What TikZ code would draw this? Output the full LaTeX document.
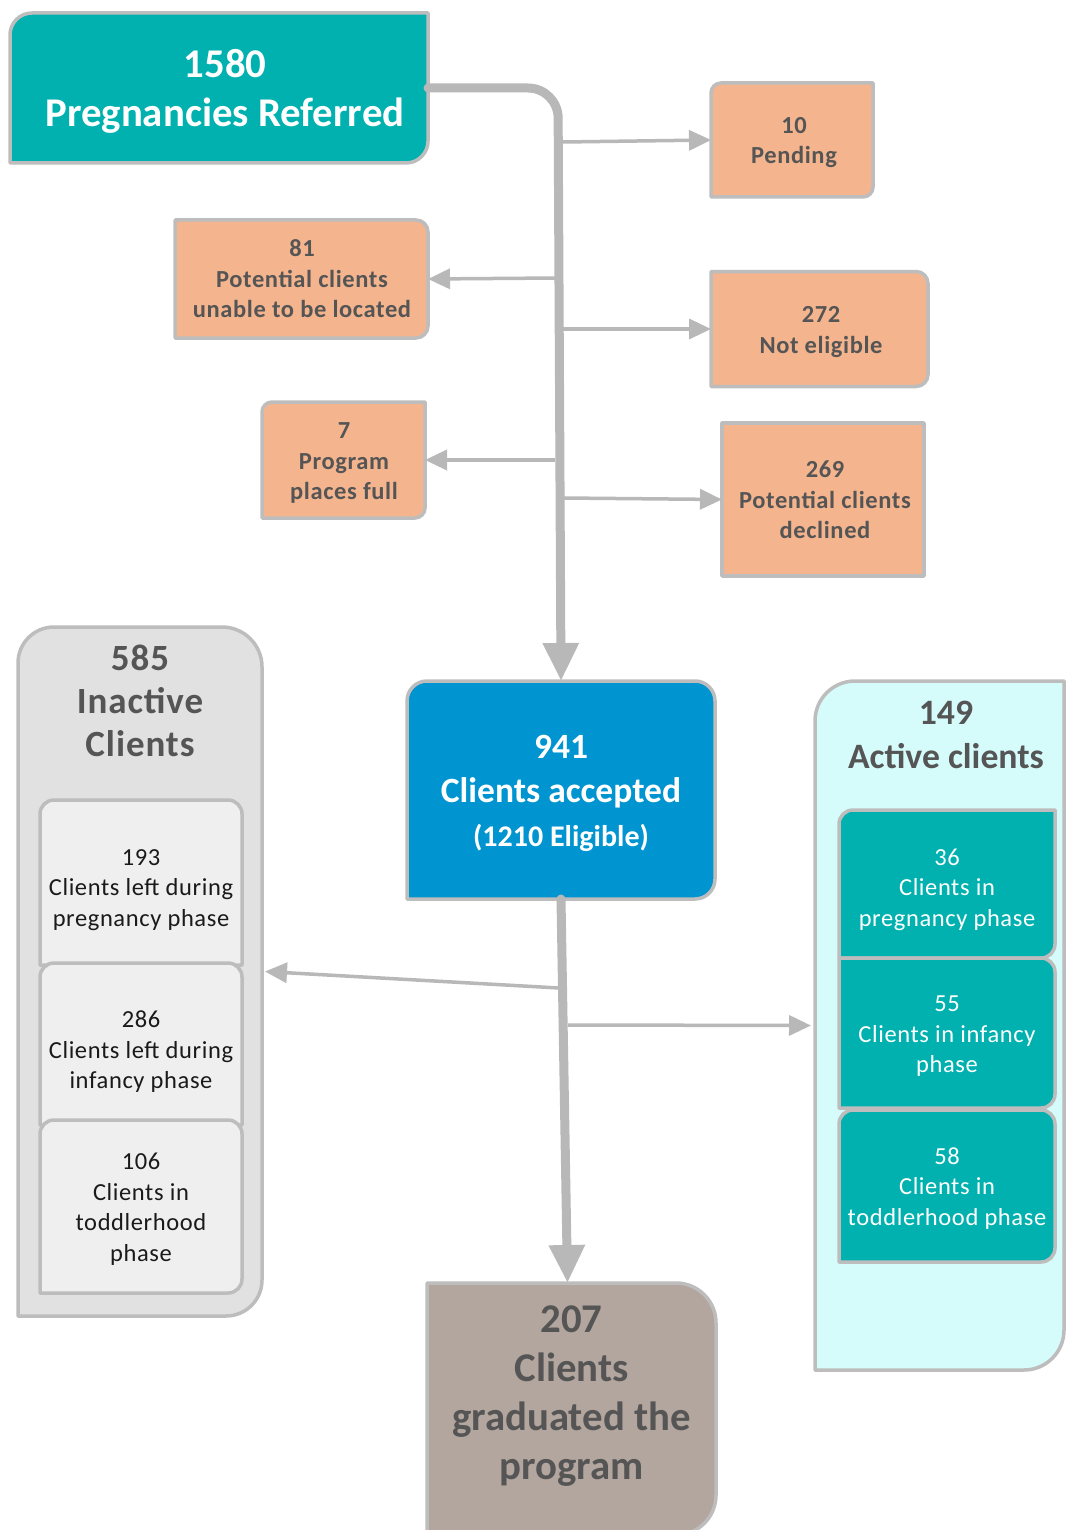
\documentclass[tikz,border=0pt]{standalone}
\usepackage{fontspec}
\setmainfont{Carlito}
\newfontfamily\spacedfont{Carlito}[LetterSpace=2.5]
\usetikzlibrary{arrows.meta,backgrounds}
\definecolor{teal1}{HTML}{00B1AF}
\definecolor{org}{HTML}{F4B58E}
\definecolor{blu}{HTML}{0094D0}
\definecolor{lgrey}{HTML}{E1E1E1}
\definecolor{igrey}{HTML}{EFEFEF}
\definecolor{cyanl}{HTML}{D5FBFB}
\definecolor{taupe}{HTML}{B3A69E}
\definecolor{bord}{HTML}{BDBDBD}
\definecolor{arr}{HTML}{B8B8B8}
\definecolor{dtext}{HTML}{555555}
\definecolor{btext}{HTML}{1A1A1A}
\newcommand\fs[2]{\fontsize{#1}{#2}\selectfont}
\newcommand\outlinebox[6]{%
  \begin{scope}[on background layer]
  \path[#6] (#1.west) [#2] -- (#1.north west) -- (#1.north) [#3] -- (#1.north east) -- (#1.east) [#4] -- (#1.south east) -- (#1.south) [#5] -- (#1.south west) -- cycle;
  \end{scope}}
\tikzset{
  shapebox/.style={inner sep=0pt, outer sep=0pt, align=center},
  edgeline/.style={draw=bord, line width=3.5pt, line join=round},
  orangetxt/.style={shapebox, text=dtext, font={\spacedfont\bfseries\fs{24.5}{30.5}}},
  greytxt/.style={shapebox, text=btext, font={\spacedfont\fs{24.5}{30.5}}},
  tealtxt/.style={shapebox, text=white, font={\spacedfont\fs{24.5}{30.5}}},
  trunk/.style={draw=arr, line width=9pt, line cap=round, -{Triangle[width=34pt,length=38pt]}},
  branch/.style={draw=arr, line width=3.5pt, -{Triangle[width=20pt,length=22pt]}},
  rc/.style={rounded corners=#1},
}
\begin{document}
\begin{tikzpicture}[x=1pt,y=-1pt]
\useasboundingbox (0,0) rectangle (1066,1530);
\begin{scope}[on background layer]
\fill[white] (0,0) rectangle (1066,1530);
\end{scope}

% containers
\node[shapebox, minimum width=244pt, minimum height=689pt] (inact) at (140,971.5) {};
\outlinebox{inact}{rc=36pt}{rc=40pt}{rc=36pt}{sharp corners}{edgeline,fill=lgrey}
\node[shapebox, text=dtext, font={\spacedfont\bfseries\fs{37}{43}}] (inactt) at (140,701) {585\\Inactive\\Clients};

\node[shapebox, minimum width=249pt, minimum height=689pt] (act) at (939.5,1025.5) {};
\outlinebox{act}{rc=40pt}{sharp corners}{rc=40pt}{sharp corners}{edgeline,fill=cyanl}
\node[shapebox, text=dtext, font={\bfseries\fs{35.7}{44}}] (actt) at (946,735) {149\\Active clients};

% top box
\node[shapebox, minimum width=418pt, minimum height=150pt] (top) at (219,88) {};
\outlinebox{top}{rc=22pt}{sharp corners}{rc=22pt}{sharp corners}{edgeline,fill=teal1}
\node[shapebox, text=white, font={\bfseries\fs{40.8}{49}}] (topt) at (225,91) {1580\\Pregnancies Referred};

% orange boxes
\node[shapebox, minimum width=162pt, minimum height=114pt] (pend) at (792,140) {};
\outlinebox{pend}{rc=10pt}{sharp corners}{rc=10pt}{sharp corners}{edgeline,fill=org}
\node[orangetxt] (pendt) at (794,142.5) {10\\Pending};

\node[shapebox, minimum width=253pt, minimum height=118pt] (unl) at (301.5,279) {};
\outlinebox{unl}{sharp corners}{rc=12pt}{rc=12pt}{sharp corners}{edgeline,fill=org}
\node[orangetxt] (unlt) at (302,279) {81\\Potential clients\\unable to be located};

\node[shapebox, minimum width=217pt, minimum height=115pt] (inel) at (819.5,329) {};
\outlinebox{inel}{sharp corners}{rc=12pt}{rc=12pt}{sharp corners}{edgeline,fill=org}
\node[orangetxt] (inelt) at (821,332) {272\\Not eligible};

\node[shapebox, minimum width=163pt, minimum height=116pt] (full) at (343.5,460) {};
\outlinebox{full}{rc=10pt}{sharp corners}{rc=10pt}{sharp corners}{edgeline,fill=org}
\node[orangetxt] (fullt) at (344,463) {7\\Program\\places full};

\node[shapebox, minimum width=202pt, minimum height=153pt] (decl) at (823,499.5) {};
\outlinebox{decl}{sharp corners}{sharp corners}{sharp corners}{sharp corners}{edgeline,fill=org}
\node[orangetxt] (declt) at (825,500) {269\\Potential clients\\declined};

% accepted
\node[shapebox, minimum width=308pt, minimum height=218pt] (acc) at (561,790) {};
\outlinebox{acc}{rc=20pt}{rc=20pt}{rc=20pt}{sharp corners}{edgeline,fill=blu}
\node[shapebox, text=white, font={\bfseries\fs{35.5}{44}}] (acct) at (561,793) {941\\Clients accepted\\{\fs{30}{44}(1210 Eligible)}};

% inactive inner boxes
\node[shapebox, minimum width=202pt, minimum height=165pt] (i193) at (141,882.5) {};
\outlinebox{i193}{rc=14pt}{rc=14pt}{sharp corners}{sharp corners}{edgeline,fill=igrey}
\node[greytxt] (i193t) at (141,890) {193\\Clients left during\\pregnancy phase};
\node[shapebox, minimum width=202pt, minimum height=162pt] (i286) at (141,1044) {};
\outlinebox{i286}{rc=14pt}{rc=14pt}{sharp corners}{sharp corners}{edgeline,fill=igrey}
\node[greytxt] (i286t) at (141,1052) {286\\Clients left during\\infancy phase};
\node[shapebox, minimum width=202pt, minimum height=173pt] (i106) at (141,1206.5) {};
\outlinebox{i106}{rc=14pt}{rc=14pt}{rc=14pt}{sharp corners}{edgeline,fill=igrey}
\node[greytxt] (i106t) at (141,1209) {106\\Clients in\\toddlerhood\\phase};

% active inner boxes
\node[shapebox, minimum width=216pt, minimum height=148pt] (a36) at (947,884) {};
\outlinebox{a36}{rc=14pt}{sharp corners}{rc=14pt}{sharp corners}{edgeline,fill=teal1}
\node[tealtxt] (a36t) at (947,889.5) {36\\Clients in\\pregnancy phase};
\node[shapebox, minimum width=216pt, minimum height=150pt] (a55) at (947,1033) {};
\outlinebox{a55}{sharp corners}{rc=14pt}{rc=14pt}{sharp corners}{edgeline,fill=teal1}
\node[tealtxt] (a55t) at (947,1036.5) {55\\Clients in infancy\\phase};
\node[shapebox, minimum width=216pt, minimum height=152pt] (a58) at (947,1186) {};
\outlinebox{a58}{rc=14pt}{rc=14pt}{rc=14pt}{sharp corners}{edgeline,fill=teal1}
\node[tealtxt] (a58t) at (947,1188.5) {58\\Clients in\\toddlerhood phase};

% graduated
\node[shapebox, minimum width=289pt, minimum height=252pt] (grad) at (571.5,1409) {};
\outlinebox{grad}{sharp corners}{rc=40pt}{rc=40pt}{sharp corners}{edgeline,fill=taupe}
\node[shapebox, text=dtext, font={\bfseries\fs{40.8}{49}}] (gradt) at (571.5,1396.5) {207\\Clients\\graduated the\\program};

% trunk
\draw[trunk, rounded corners=30pt] (top.east) -- (558,88) -- (acc.north);
\coordinate (b1) at (563,142);
\coordinate (b2) at (557,278);
\coordinate (b3) at (563,329);
\coordinate (b4) at (555,460);
\coordinate (b5) at (563,498);
\draw[branch] (b1) -- (pend.west);
\draw[branch] (b2) -- (unl.east);
\draw[branch] (b3) -- (inel.west);
\draw[branch] (b4) -- (full.east);
\draw[branch] (b5) -- (decl.west);

\draw[trunk] (acc.south) -- ([xshift=-4pt]grad.north);
\coordinate (b6) at (559,988);
\coordinate (b7) at (568,1025);
\draw[branch] (b6) -- ([xshift=3pt]inact.east);
\draw[branch] (b7) -- ([xshift=-4pt]act.west);
\end{tikzpicture}
\end{document}
